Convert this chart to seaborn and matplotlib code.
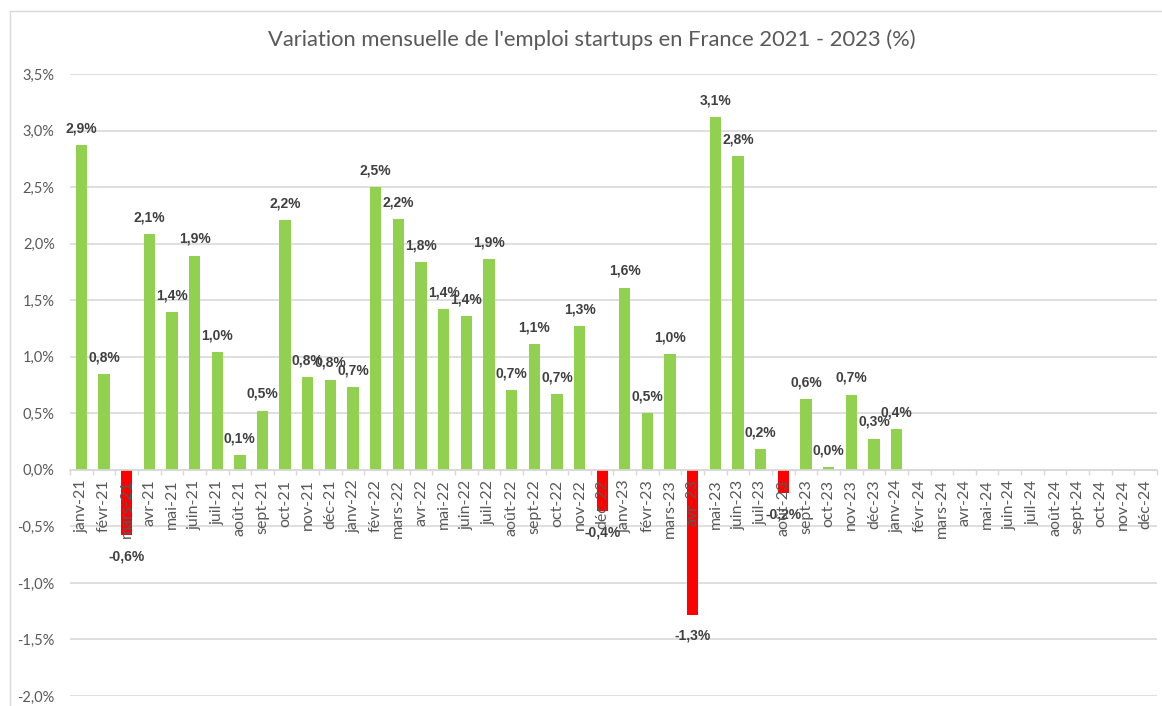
import numpy as np
import pandas as pd
import matplotlib
matplotlib.use("Agg")
import matplotlib.pyplot as plt
from matplotlib.lines import Line2D
from matplotlib.ticker import FixedLocator, FuncFormatter
import seaborn as sns

# ---- data ----
months = ["janv-21", "févr-21", "mars-21", "avr-21", "mai-21", "juin-21", "juil-21", "août-21",
          "sept-21", "oct-21", "nov-21", "déc-21",
          "janv-22", "févr-22", "mars-22", "avr-22", "mai-22", "juin-22", "juil-22", "août-22",
          "sept-22", "oct-22", "nov-22", "déc-22",
          "janv-23", "févr-23", "mars-23", "avr-23", "mai-23", "juin-23", "juil-23", "août-23",
          "sept-23", "oct-23", "nov-23", "déc-23",
          "janv-24", "févr-24", "mars-24", "avr-24", "mai-24", "juin-24", "juil-24", "août-24",
          "sept-24", "oct-24", "nov-24", "déc-24"]
values = [2.87, 0.845, -0.58, 2.083, 1.394, 1.895, 1.039, 0.132, 0.524, 2.21, 0.821, 0.797,
          0.733, 2.50, 2.22, 1.84, 1.418, 1.359, 1.86, 0.703, 1.112, 0.671, 1.271, -0.368,
          1.612, 0.50, 1.024, -1.28, 3.118, 2.777, 0.185, -0.206, 0.627, 0.024, 0.665, 0.276,
          0.359]
y_ticks = [-2.0, -1.5, -1.0, -0.5, 0.0, 0.5, 1.0, 1.5, 2.0, 2.5, 3.0, 3.5]
title = "Variation mensuelle de l'emploi startups en France 2021 - 2023 (%)"

GREEN = "#92D050"
RED = "#FF0000"
GRID = "#D9D9D9"
TXT = "#595959"
LBL = "#404040"

df = pd.DataFrame({"mois": months[:len(values)], "variation": values})
df["signe"] = np.where(df["variation"] < 0, "neg", "pos")

sns.set_theme(style="white")
plt.rcParams["font.family"] = ["Lato", "DejaVu Sans"]

fig = plt.figure(figsize=(11.62, 7.06), dpi=100)
ax = fig.add_axes([70 / 1162, 1 - 696 / 706, 1087 / 1162, (696 - 74) / 706])

sns.barplot(data=df, x="mois", y="variation", hue="signe", order=months,
            palette={"pos": GREEN, "neg": RED}, hue_order=["pos", "neg"],
            dodge=False, width=0.5, errorbar=None, legend=False, ax=ax,
            saturation=1, linewidth=0)

ax.set_xlim(-0.5, len(months) - 0.5)
ax.set_ylim(y_ticks[0], y_ticks[-1])
ax.yaxis.set_major_locator(FixedLocator(y_ticks))
ax.yaxis.set_major_formatter(FuncFormatter(lambda v, p: f"{v:.1f}%".replace(".", ",")))
ax.yaxis.grid(True, color=GRID, lw=1.2)
ax.set_axisbelow(True)
ax.xaxis.set_zorder(5)

for s in ["top", "right", "left"]:
    ax.spines[s].set_visible(False)
ax.spines["bottom"].set_position(("data", 0))
ax.spines["bottom"].set_color(GRID)
ax.spines["bottom"].set_linewidth(1.2)

ax.set_xticks(range(len(months)))
ax.set_xticklabels(months, rotation=90, fontsize=11.5, color=TXT)
ax.set_xticks(np.arange(-0.5, len(months), 1.0), minor=True)
ax.tick_params(axis="x", which="major", length=0, pad=7)
ax.tick_params(axis="x", which="minor", length=3.5, width=1, color=GRID, direction="out", bottom=True)
ax.tick_params(axis="y", length=0, pad=11, labelsize=10.5, labelcolor=TXT)
ax.set_xlabel("")
ax.set_ylabel("")

def fmt(v):
    return f"{v:.1f}%".replace(".", ",")

for cont in ax.containers:
    labels = []
    for v in cont.datavalues:
        labels.append("" if np.isnan(v) else fmt(v))
    neg = np.nanmean(cont.datavalues) < 0 if len(cont.datavalues) else False
    ax.bar_label(cont, labels=labels, padding=10 if neg else 7,
                 fontsize=10, fontweight="bold", color=LBL,
                 family=["Liberation Sans", "DejaVu Sans"])

fig.text(592 / 1162, 1 - 40 / 706, title, ha="center", va="center", fontsize=15.8, color=TXT)

# chart area border
fig.add_artist(Line2D([10 / 1162, 10 / 1162], [0, 1 - 11 / 706], transform=fig.transFigure, color=GRID, lw=1))
fig.add_artist(Line2D([10 / 1162, 1], [1 - 11 / 706, 1 - 11 / 706], transform=fig.transFigure, color=GRID, lw=1))

fig.savefig("out.png", dpi=100)
